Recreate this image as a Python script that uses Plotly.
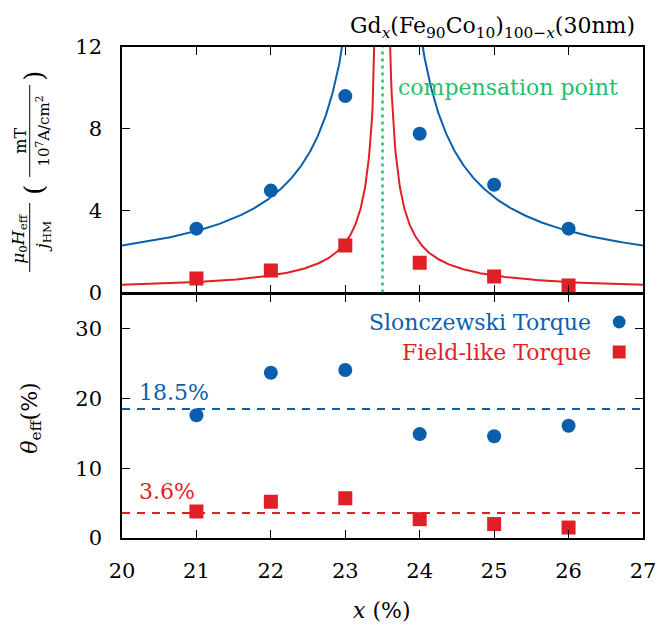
import numpy as np
import plotly.graph_objects as go

# ---------------- data ----------------
x_pct = [21, 22, 23, 24, 25, 26]
# top panel: mu0 H_eff / j_HM  (mT per 1e7 A/cm^2)
h_slonc = [3.12, 4.98, 9.6, 7.76, 5.27, 3.12]
h_field = [0.68, 1.07, 2.3, 1.46, 0.78, 0.34]
# bottom panel: theta_eff (%)
theta_slonc = [17.6, 23.7, 24.1, 14.9, 14.6, 16.1]
theta_field = [3.8, 5.2, 5.7, 2.7, 2.0, 1.5]
avg_slonc = 18.5
avg_field = 3.6
comp_point = 23.5
# fit parameters  y = B + A/|x - x0|
fit_slonc = dict(A=6.19, B=0.53)
fit_field = dict(A=1.2, B=0.03)

BLUE = "#0a5fad"
RED = "#e01f26"
GREEN = "#22c06c"
FONT = "DejaVu Serif"

W, H = 668, 627
L, R, T, B = 122, 21, 47, 89
PW, PH = W - L - R, H - T - B


def px(xp):
    return (xp - L) / PW


def py(yp):
    return (H - B - yp) / PH


def fit_curve(p):
    xs, ys = [], []
    for side in (np.linspace(20, comp_point - 0.02, 400), np.linspace(comp_point + 0.02, 27, 400)):
        xs += list(side) + [None]
        ys += list(p["B"] + p["A"] / np.abs(side - comp_point)) + [None]
    return xs, ys


fig = go.Figure()

xs, ys = fit_curve(fit_slonc)
fig.add_trace(go.Scatter(x=xs, y=ys, mode="lines", line=dict(color=BLUE, width=2),
                         xaxis="x2", yaxis="y2", showlegend=False, hoverinfo="skip"))
xs, ys = fit_curve(fit_field)
fig.add_trace(go.Scatter(x=xs, y=ys, mode="lines", line=dict(color=RED, width=2),
                         xaxis="x2", yaxis="y2", showlegend=False, hoverinfo="skip"))

fig.add_trace(go.Scatter(x=x_pct, y=h_slonc, mode="markers", xaxis="x2", yaxis="y2",
                         marker=dict(symbol="circle", size=14, color=BLUE), showlegend=False))
fig.add_trace(go.Scatter(x=x_pct, y=h_field, mode="markers", xaxis="x2", yaxis="y2",
                         marker=dict(symbol="square", size=14, color=RED), showlegend=False))

fig.add_trace(go.Scatter(x=x_pct, y=theta_slonc, mode="markers", xaxis="x", yaxis="y",
                         marker=dict(symbol="circle", size=14, color=BLUE), showlegend=False))
fig.add_trace(go.Scatter(x=x_pct, y=theta_field, mode="markers", xaxis="x", yaxis="y",
                         marker=dict(symbol="square", size=14, color=RED), showlegend=False))

axis_common = dict(showline=True, linecolor="black", linewidth=1.5, mirror="ticks",
                   ticks="inside", ticklen=8, tickwidth=1, tickcolor="black",
                   showgrid=False, zeroline=False,
                   tickfont=dict(family=FONT, size=21, color="black"))

fig.update_layout(
    width=W, height=H,
    margin=dict(l=L, r=R, t=T, b=B),
    paper_bgcolor="white", plot_bgcolor="white",
    showlegend=False,
    xaxis=dict(domain=[0, 1], range=[20, 27], tickvals=list(range(20, 28)),
               anchor="y", ticklabelstandoff=13, **axis_common),
    yaxis=dict(domain=[0, 0.497], range=[0, 35], tickvals=[0, 10, 20, 30],
               anchor="x", ticklabelstandoff=14, **axis_common),
    xaxis2=dict(domain=[0, 1], range=[20, 27], tickvals=list(range(20, 28)),
                anchor="y2", matches="x", showticklabels=False, **axis_common),
    yaxis2=dict(domain=[0.5, 1], range=[0, 12], tickvals=[0, 4, 8, 12],
                anchor="x2", ticklabelstandoff=14, **axis_common),
)

# compensation line and average lines
fig.add_shape(type="line", xref="x2", yref="y2", x0=comp_point, x1=comp_point, y0=0, y1=12,
              line=dict(color=GREEN, width=2.5, dash="3px,4px"))
fig.add_shape(type="line", xref="x", yref="y", x0=20, x1=27, y0=avg_slonc, y1=avg_slonc,
              line=dict(color=BLUE, width=2, dash="8px,7px"))
fig.add_shape(type="line", xref="x", yref="y", x0=20, x1=27, y0=avg_field, y1=avg_field,
              line=dict(color=RED, width=2, dash="8px,7px"))

ann = []


def text(x, y, s, size=22, color="black", xanchor="center", angle=0, xref="paper", yref="paper"):
    ann.append(dict(x=x, y=y, xref=xref, yref=yref, text=s, showarrow=False,
                    xanchor=xanchor, yanchor="middle", textangle=angle,
                    font=dict(family=FONT, size=size, color=color)))


text(comp_point + 0.18, 10.0, "compensation point", color=GREEN, xanchor="left", xref="x2", yref="y2")
text(20.2, 20.9, f"{avg_slonc}%", color=BLUE, xanchor="left", xref="x", yref="y")
text(20.2, 6.6, f"{avg_field}%", color=RED, xanchor="left", xref="x", yref="y")

# legend (text left of symbol)
text(px(597), py(322), "Slonczewski Torque", color=BLUE, xanchor="right")
text(px(597), py(352), "Field-like Torque", color=RED, xanchor="right")
r = 6.5
fig.add_shape(type="circle", xref="paper", yref="paper",
              x0=px(623 - r), x1=px(623 + r), y0=py(322 + r), y1=py(322 - r),
              fillcolor=BLUE, line=dict(width=0))
fig.add_shape(type="rect", xref="paper", yref="paper",
              x0=px(623 - r), x1=px(623 + r), y0=py(352 + r), y1=py(352 - r),
              fillcolor=RED, line=dict(width=0))

# title
text(px(641), py(28), "Gd<sub><i>x</i></sub>(Fe<sub>90</sub>Co<sub>10</sub>)<sub>100−<i>x</i></sub>(30nm)",
     xanchor="right")

# x-axis title
text(px(384), py(610), "<i>x</i> (%)")

# bottom y title
text(px(30), py(418), "<i>θ</i><sub>eff</sub>(%)", angle=-90)

# top y title (fraction built from pieces)
text(px(19), py(238), "<i>μ</i><sub>0</sub><i>H</i><sub>eff</sub>", size=17, angle=-90)
text(px(42), py(237), "<i>j</i><sub>HM</sub>", size=17, angle=-90)
fig.add_shape(type="line", xref="paper", yref="paper", x0=px(29), x1=px(29), y0=py(203), y1=py(272),
              line=dict(color="black", width=1))
text(px(33), py(190), "(", size=26, angle=-90)
text(px(19), py(141), "mT", size=16, angle=-90)
text(px(42), py(131), "10<sup>7</sup>A/cm<sup>2</sup>", size=15, angle=-90)
fig.add_shape(type="line", xref="paper", yref="paper", x0=px(29), x1=px(29), y0=py(85), y1=py(177),
              line=dict(color="black", width=1))
text(px(33), py(76), ")", size=26, angle=-90)

fig.update_layout(annotations=ann)
fig.write_html("out.html")
